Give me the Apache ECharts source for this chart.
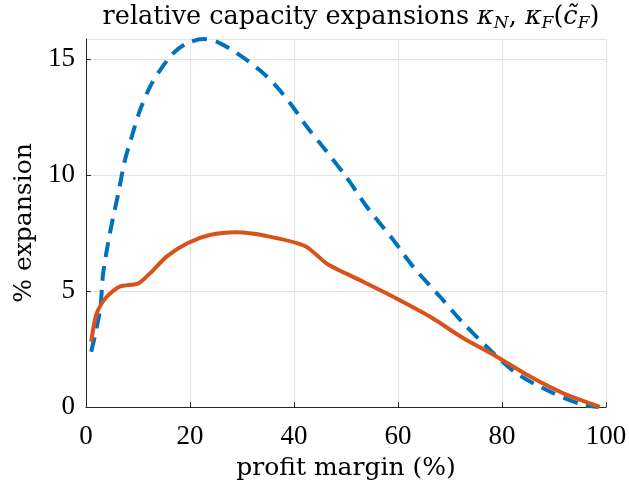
<!DOCTYPE html>
<html>
<head>
<meta charset="utf-8">
<script src="https://cdn.jsdelivr.net/npm/echarts@6/dist/echarts.min.js"></script>
<style>
  html, body { margin: 0; padding: 0; background: #fff; }
  #chart { width: 629px; height: 484px; }
</style>
</head>
<body>
<div id="chart"></div>
<script>
// kappa_N (dashed blue)
const marginN = [1, 2.7, 3.3, 4.6, 6.2, 7.5, 8.8, 10.4, 12.3, 14.2, 16.8, 19.4, 22.6, 25.1, 29, 33.5, 36.7, 39.9, 42.4, 45.6, 50.1, 54, 59.1, 62.9, 68.1, 72.6, 77.7, 82.8, 89.9, 95.6, 98.5];
const kappaN = [2.38, 4.18, 5.76, 7.49, 9.2, 10.65, 11.65, 12.8, 13.8, 14.5, 15.25, 15.67, 15.86, 15.75, 15.25, 14.5, 13.8, 12.9, 12.1, 11.2, 9.9, 8.63, 7.2, 6.05, 4.75, 3.6, 2.46, 1.45, 0.59, 0.09, 0.0];

// kappa_F(c~_F) (solid orange)
const marginF = [1, 2.06, 4, 6.5, 10.1, 12.3, 15.5, 19.4, 23.8, 29, 34.7, 42.1, 46.5, 53.3, 59.7, 66.2, 72.6, 79, 85.4, 91.8, 98.8];
const kappaF = [2.81, 4.04, 4.75, 5.19, 5.33, 5.76, 6.48, 7.05, 7.41, 7.53, 7.37, 6.94, 6.15, 5.4, 4.68, 3.89, 2.96, 2.17, 1.31, 0.59, 0.01];

const xTicks = [0, 20, 40, 60, 80, 100];
const yTicks = [0, 5, 10, 15];

const pair = (xs, ys) => xs.map((x, i) => [x, ys[i]]);

const digits = '"Liberation Serif", serif';
const words = '"DejaVu Serif", serif';
const axisColor = '#262626';

const chart = echarts.init(document.getElementById('chart'));
chart.setOption({
  animation: false,
  title: {
    text: '{n|relative capacity expansions }{i|κ}{s|N}{n|, }{i|κ}{s|F}{n|(}{i|c̃}{s|F}{n|)}',
    left: 346,
    textAlign: 'center',
    top: -3,
    textStyle: {
      fontWeight: 'normal',
      rich: {
        n: { fontFamily: words, fontSize: 25.5, fontWeight: 'normal', color: '#000', lineHeight: 30, verticalAlign: 'middle' },
        i: { fontFamily: words, fontSize: 25.5, fontWeight: 'normal', fontStyle: 'italic', color: '#000', lineHeight: 30, verticalAlign: 'middle' },
        s: { fontFamily: words, fontSize: 17, fontWeight: 'normal', fontStyle: 'italic', color: '#000', lineHeight: 30, verticalAlign: 'bottom' }
      }
    }
  },
  grid: { left: 86, right: 23, top: 39, bottom: 77, containLabel: false, outerBoundsMode: 'none' },
  xAxis: {
    type: 'value',
    min: 0,
    max: 100,
    interval: 20,
    name: 'profit margin (%)',
    nameLocation: 'middle',
    nameGap: 49,
    nameTextStyle: { fontFamily: words, fontSize: 25, color: '#000' },
    axisLine: { show: true, lineStyle: { color: axisColor, width: 1 } },
    axisTick: { show: true, inside: true, length: 5, lineStyle: { color: axisColor } },
    axisLabel: {
      fontFamily: digits, fontSize: 27, color: '#000', margin: 16,
      formatter: v => xTicks.includes(v) ? String(v) : ''
    },
    splitLine: { show: true, lineStyle: { color: '#e3e3e3', width: 1 } }
  },
  yAxis: {
    type: 'value',
    min: 0,
    max: 15.86,
    interval: 5,
    name: '% expansion',
    nameLocation: 'middle',
    nameGap: 49,
    nameRotate: 90,
    nameTextStyle: { fontFamily: words, fontSize: 25, color: '#000' },
    axisLine: { show: true, lineStyle: { color: axisColor, width: 1 } },
    axisTick: { show: true, inside: true, length: 5, lineStyle: { color: axisColor } },
    axisLabel: {
      fontFamily: digits, fontSize: 27, color: '#000', margin: 11,
      showMaxLabel: false,
      formatter: v => yTicks.includes(v) ? String(v) : ''
    },
    splitLine: { show: true, lineStyle: { color: '#e3e3e3', width: 1 } }
  },
  series: [
    {
      name: 'kappaN',
      type: 'line',
      data: pair(marginN, kappaN),
      smooth: 0.3,
      showSymbol: false,
      lineStyle: { color: '#0072BD', width: 4, type: [15, 9], cap: 'butt' },
      z: 2
    },
    {
      name: 'kappaF',
      type: 'line',
      data: pair(marginF, kappaF),
      smooth: 0.25,
      showSymbol: false,
      lineStyle: { color: '#D95319', width: 4 },
      z: 3
    }
  ]
});
</script>
</body>
</html>
